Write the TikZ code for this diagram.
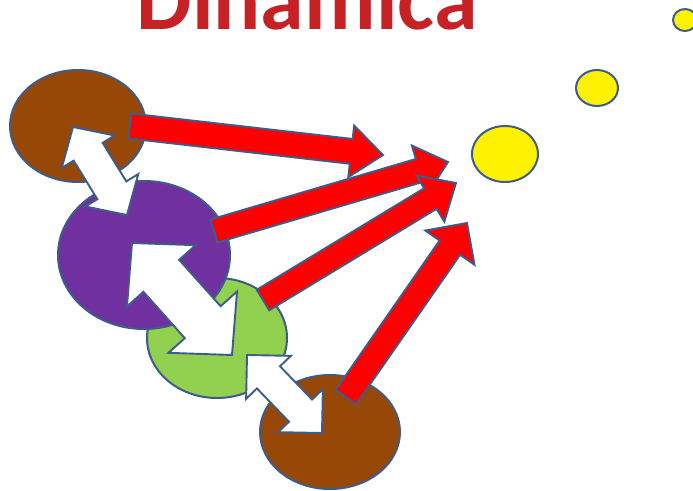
\documentclass[tikz,border=0pt]{standalone}
\usepackage{fontspec}
\newfontfamily\titlefont{Carlito}
\usetikzlibrary{shapes.geometric,calc}
\definecolor{outl}{RGB}{62,92,138}
\definecolor{brownc}{RGB}{152,72,6}
\definecolor{purplec}{RGB}{112,48,160}
\definecolor{greenc}{RGB}{146,208,80}
\definecolor{titlered}{RGB}{198,34,38}
\tikzset{
  blob/.style={ellipse, draw=outl, line width=2pt, inner sep=0pt},
  redarrow/.style={draw=outl, fill=red, line width=1.9pt, line join=miter},
  whitearrow/.style={draw=outl, fill=white, line width=1.9pt, line join=miter}
}
% single block arrow: #1 style, #2 tail, #3 tip, #4 head length, #5 head half width, #6 shaft half width
\newcommand\singlearrow[6]{%
  \path ($(#3)!#4!(#2)$) coordinate (hb);
  \draw[#1] ($(#2)!#6!90:(#3)$) -- ($(hb)!#6!90:(#3)$) -- ($(hb)!#5!90:(#3)$) -- (#3)
    -- ($(hb)!#5!-90:(#3)$) -- ($(hb)!#6!-90:(#3)$) -- ($(#2)!#6!-90:(#3)$) -- cycle;}
% double block arrow: #1 style, #2 tip one, #3 tip two, #4 head length, #5 head half width, #6 shaft half width
\newcommand\doublearrow[6]{%
  \path ($(#2)!#4!(#3)$) coordinate (ba) ($(#3)!#4!(#2)$) coordinate (bb);
  \draw[#1] (#2) -- ($(ba)!#5!90:(#3)$) -- ($(ba)!#6!90:(#3)$) -- ($(bb)!#6!90:(#3)$)
    -- ($(bb)!#5!90:(#3)$) -- (#3) -- ($(bb)!#5!-90:(#3)$) -- ($(bb)!#6!-90:(#3)$)
    -- ($(ba)!#6!-90:(#3)$) -- ($(ba)!#5!-90:(#3)$) -- cycle;}
\begin{document}
\begin{tikzpicture}[x=1pt,y=-1pt]
\useasboundingbox (0,0) rectangle (693,490);
\clip (0,0) rectangle (693,490);
% title
\node[anchor=base, text=titlered, inner sep=0pt] (title) at (307,29)
  {\titlefont\bfseries\fontsize{88}{88}\selectfont Dinamica};
% circles
\node[blob, fill=greenc, minimum width=140pt, minimum height=120pt] (green) at (217,338) {};
\node[blob, fill=brownc, minimum width=140pt, minimum height=114pt] (brownb) at (330,432) {};
\node[blob, fill=purplec, minimum width=172pt, minimum height=148pt] (purple) at (144,255) {};
\node[blob, fill=brownc, minimum width=136pt, minimum height=112pt] (brownt) at (78,126) {};
\node[blob, fill=yellow, minimum width=66pt, minimum height=56pt] (sun1) at (505,154) {};
\node[blob, fill=yellow, minimum width=42pt, minimum height=36pt] (sun2) at (597,88) {};
\node[blob, fill=yellow, minimum width=24pt, minimum height=22pt] (sun3) at (685,20) {};
% arrow end points
\coordinate (r1a) at (130,126); \coordinate (r1b) at (383,155);
\coordinate (r2a) at (214,231); \coordinate (r2b) at (448,162);
\coordinate (r3a) at (263,300); \coordinate (r3b) at (456,183);
\coordinate (r4a) at (346,397); \coordinate (r4b) at (467,223);
\coordinate (wa1) at (73,127);  \coordinate (wa2) at (127,215);
\coordinate (wb1) at (132,243); \coordinate (wb2) at (232,355);
\coordinate (wc1) at (247,355); \coordinate (wc2) at (322,433);
% red arrows
\singlearrow{redarrow}{r1a}{r1b}{32pt}{26pt}{12.5pt}
\singlearrow{redarrow}{r2a}{r2b}{30pt}{26pt}{12pt}
\singlearrow{redarrow}{r3a}{r3b}{30pt}{27pt}{12pt}
\singlearrow{redarrow}{r4a}{r4b}{30pt}{30pt}{12.5pt}
% white double arrows
\doublearrow{whitearrow}{wa1}{wa2}{29pt}{31pt}{17pt}
\doublearrow{whitearrow}{wb1}{wb2}{44pt}{46pt}{24pt}
\doublearrow{whitearrow}{wc1}{wc2}{31pt}{31pt}{16pt}
\end{tikzpicture}
\end{document}
